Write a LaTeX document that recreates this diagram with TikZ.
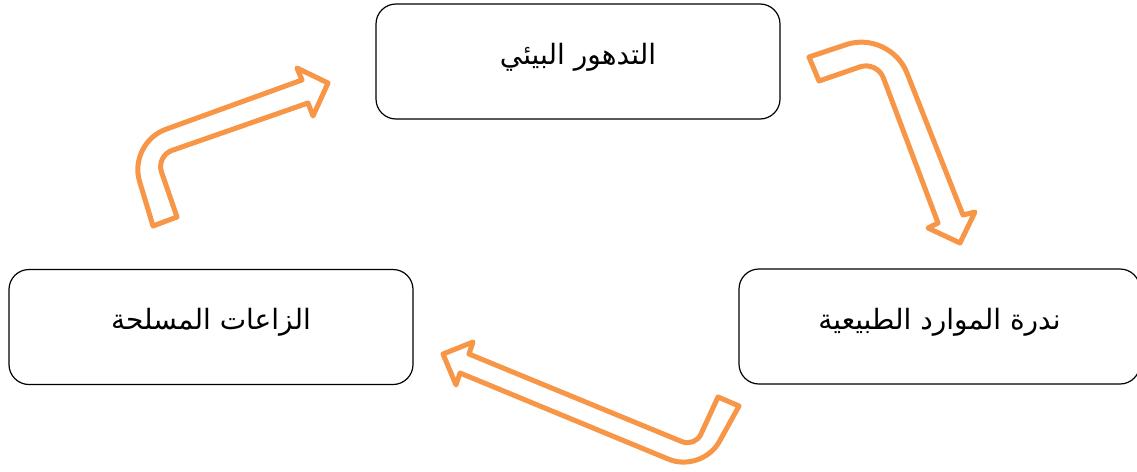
\documentclass[tikz,border=0pt]{standalone}
\usepackage{fontspec}
\newfontfamily\arabicfont[Script=Arabic]{DejaVu Sans}
\TeXXeTstate=1
\usetikzlibrary{calc}
\definecolor{arroworange}{HTML}{F79646}
\begin{document}
\begin{tikzpicture}[x=1pt,y=-1pt,
  stagebox/.style={draw=black,line width=1.2pt,rounded corners=20pt,fill=white,
    minimum width=#1,minimum height=115pt,inner sep=0pt},
  stagetext/.style={font=\arabicfont\fontsize{28}{32}\selectfont,inner sep=0pt},
  bentarrow/.style={draw=arroworange,line width=5pt,line join=round,fill=white}]
\useasboundingbox (0,0) rectangle (1137,471);

\node[stagebox=404pt] (top) at (578,61.5) {};
\node[stagebox=404pt] (left) at (211,327) {};
\node[stagebox=401pt] (right) at (939.5,326.5) {};
\node[stagetext] (toptext) at ($(top.center)+(0,-4)$) {\beginR التدهور البيئي\endR};
\node[stagetext] (lefttext) at ($(left.center)+(0,-5)$) {\beginR الزاعات المسلحة\endR};
\node[stagetext] (righttext) at ($(right.center)+(0,-4)$) {\beginR ندرة الموارد الطبيعية\endR};

% arrow 1: from left box up to top box
\coordinate (a1t1) at (153,226);
\coordinate (a1o) at (128,143);
\coordinate (a1s1) at (302,80);
\coordinate (a1b1) at (297,68);
\coordinate (a1tip) at (328,83);
\coordinate (a1b2) at (313,116);
\coordinate (a1s2) at (308,103);
\coordinate (a1i) at (156,156);
\coordinate (a1t2) at (177,217);
\coordinate (a1op) at ($(a1o)!40pt!(a1t1)$);
\coordinate (a1oq) at ($(a1o)!40pt!(a1s1)$);
\coordinate (a1ip) at ($(a1i)!17pt!(a1s2)$);
\coordinate (a1iq) at ($(a1i)!17pt!(a1t2)$);
\draw[bentarrow] (a1t1) -- (a1op) .. controls ($(a1op)!0.55!(a1o)$) and ($(a1oq)!0.55!(a1o)$) .. (a1oq)
  -- (a1s1) -- (a1b1) -- (a1tip) -- (a1b2) -- (a1s2)
  -- (a1ip) .. controls ($(a1ip)!0.55!(a1i)$) and ($(a1iq)!0.55!(a1i)$) .. (a1iq) -- (a1t2) -- cycle;

% arrow 2: from top box down to right box
\coordinate (a2t1) at (809,57);
\coordinate (a2o) at (890,30);
\coordinate (a2s1) at (963,215);
\coordinate (a2b1) at (975,212);
\coordinate (a2tip) at (960,243);
\coordinate (a2b2) at (928,228);
\coordinate (a2s2) at (938,223);
\coordinate (a2i) at (877,61);
\coordinate (a2t2) at (819,81);
\coordinate (a2op) at ($(a2o)!46pt!(a2t1)$);
\coordinate (a2oq) at ($(a2o)!46pt!(a2s1)$);
\coordinate (a2ip) at ($(a2i)!18pt!(a2s2)$);
\coordinate (a2iq) at ($(a2i)!18pt!(a2t2)$);
\draw[bentarrow] (a2t1) -- (a2op) .. controls ($(a2op)!0.55!(a2o)$) and ($(a2oq)!0.55!(a2o)$) .. (a2oq)
  -- (a2s1) -- (a2b1) -- (a2tip) -- (a2b2) -- (a2s2)
  -- (a2ip) .. controls ($(a2ip)!0.55!(a2i)$) and ($(a2iq)!0.55!(a2i)$) .. (a2iq) -- (a2t2) -- cycle;

% arrow 3: from right box to left box
\coordinate (a3t1) at (739,406);
\coordinate (a3o) at (702,473);
\coordinate (a3s1) at (460,373);
\coordinate (a3b1) at (456,385);
\coordinate (a3tip) at (443,354);
\coordinate (a3b2) at (473,342);
\coordinate (a3s2) at (469,354);
\coordinate (a3i) at (695,447);
\coordinate (a3t2) at (718,397);
\coordinate (a3op) at ($(a3o)!36pt!(a3t1)$);
\coordinate (a3oq) at ($(a3o)!36pt!(a3s1)$);
\coordinate (a3ip) at ($(a3i)!14pt!(a3s2)$);
\coordinate (a3iq) at ($(a3i)!14pt!(a3t2)$);
\draw[bentarrow] (a3t1) -- (a3op) .. controls ($(a3op)!0.55!(a3o)$) and ($(a3oq)!0.55!(a3o)$) .. (a3oq)
  -- (a3s1) -- (a3b1) -- (a3tip) -- (a3b2) -- (a3s2)
  -- (a3ip) .. controls ($(a3ip)!0.55!(a3i)$) and ($(a3iq)!0.55!(a3i)$) .. (a3iq) -- (a3t2) -- cycle;
\end{tikzpicture}
\end{document}
